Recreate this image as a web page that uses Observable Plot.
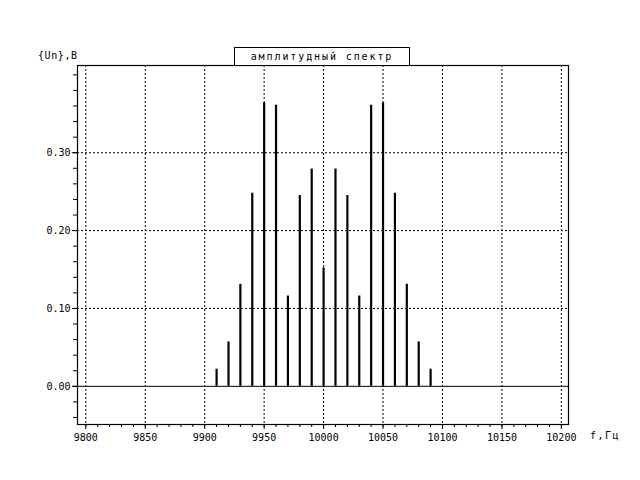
<!DOCTYPE html>
<html>
<head>
<meta charset="utf-8">
<script src="https://cdn.jsdelivr.net/npm/d3@7"></script>
<script src="https://cdn.jsdelivr.net/npm/@observablehq/plot@0.6"></script>
<style>
  html, body { margin: 0; padding: 0; background: #fff; }
  #wrap { position: relative; width: 640px; height: 480px; font-family: "DejaVu Sans Mono", monospace; color: #000; }
  #wrap svg { position: absolute; left: 0; top: 0; }
  .lbl { position: absolute; font-size: 10px; white-space: nowrap; line-height: 1; }
  #title { position: absolute; left: 234px; top: 47px; width: 176px; height: 18px; border: 1px solid #000; border-bottom: none; box-sizing: border-box; text-align: center; font-size: 10px; line-height: 17px; letter-spacing: 1.9px; background: #fff; }
</style>
</head>
<body>
<div id="wrap"></div>
<script>
// Data
const freqs = [9910, 9920, 9930, 9940, 9950, 9960, 9970, 9980, 9990, 10000,
               10010, 10020, 10030, 10040, 10050, 10060, 10070, 10080, 10090];
const amps  = [0.022, 0.057, 0.131, 0.248, 0.364, 0.361, 0.116, 0.245, 0.279, 0.152,
               0.279, 0.245, 0.116, 0.361, 0.364, 0.248, 0.131, 0.057, 0.022];
const xTicks = [9800, 9850, 9900, 9950, 10000, 10050, 10100, 10150, 10200];
const xMinor = d3.range(9800, 10201, 10);
const yTicks = [0.0, 0.1, 0.2, 0.3];
const yMinor = [-0.04, -0.02, 0.0, 0.02, 0.04, 0.06, 0.08, 0.10, 0.12, 0.14, 0.16, 0.18, 0.20, 0.22, 0.24, 0.26, 0.28, 0.30, 0.32, 0.34, 0.36, 0.38, 0.40];
const yGrid = [0.1, 0.2, 0.3];
const titleText = "амплитудный спектр";
const yLabel = "{Un},В";
const xLabel = "f,Гц";

const data = freqs.map((f, i) => ({f, a: amps[i]}));

const chart = Plot.plot({
  width: 640,
  height: 480,
  marginLeft: 77,
  marginRight: 72,
  marginTop: 65,
  marginBottom: 56,
  style: {fontFamily: "DejaVu Sans Mono, monospace", fontSize: "10px", color: "#000", background: "transparent"},
  x: {domain: [9793, 10206]},
  y: {domain: [-0.049, 0.412]},
  marks: [
    Plot.ruleX(xTicks, {x: d => d, stroke: "#000", strokeWidth: 1, strokeDasharray: "2,2"}),
    Plot.ruleY(yGrid, {y: d => d, stroke: "#000", strokeWidth: 1, strokeDasharray: "2,2"}),
    Plot.ruleY([0], {stroke: "#000", strokeWidth: 1}),
    Plot.ruleX(data, {x: "f", y1: 0, y2: "a", stroke: "#000", strokeWidth: 2.2}),
    Plot.axisX(xMinor, {tickSize: 3, tickFormat: () => "", stroke: "#000", label: null}),
    Plot.axisX(xTicks, {tickSize: 5, tickPadding: 4, tickFormat: d => String(d), fontSize: 10, stroke: "#000", fill: "#000", label: null}),
    Plot.axisY(yMinor, {tickSize: 4, tickFormat: () => "", stroke: "#000", label: null}),
    Plot.axisY(yTicks, {tickSize: 5, tickPadding: 2, tickFormat: d3.format(".2f"), fontSize: 10, stroke: "#000", fill: "#000", label: null}),
    Plot.frame({stroke: "#000", strokeWidth: 1.2})
  ]
});

const wrap = document.getElementById("wrap");
wrap.appendChild(chart);

const t = document.createElement("div");
t.id = "title"; t.textContent = titleText;
wrap.appendChild(t);

const yl = document.createElement("div");
yl.className = "lbl"; yl.textContent = yLabel;
yl.style.left = "38px"; yl.style.top = "51px"; yl.style.letterSpacing = "0.6px";
wrap.appendChild(yl);

const xl = document.createElement("div");
xl.className = "lbl"; xl.textContent = xLabel;
xl.style.left = "590px"; xl.style.top = "431px"; xl.style.letterSpacing = "1.5px";
wrap.appendChild(xl);
</script>
</body>
</html>
